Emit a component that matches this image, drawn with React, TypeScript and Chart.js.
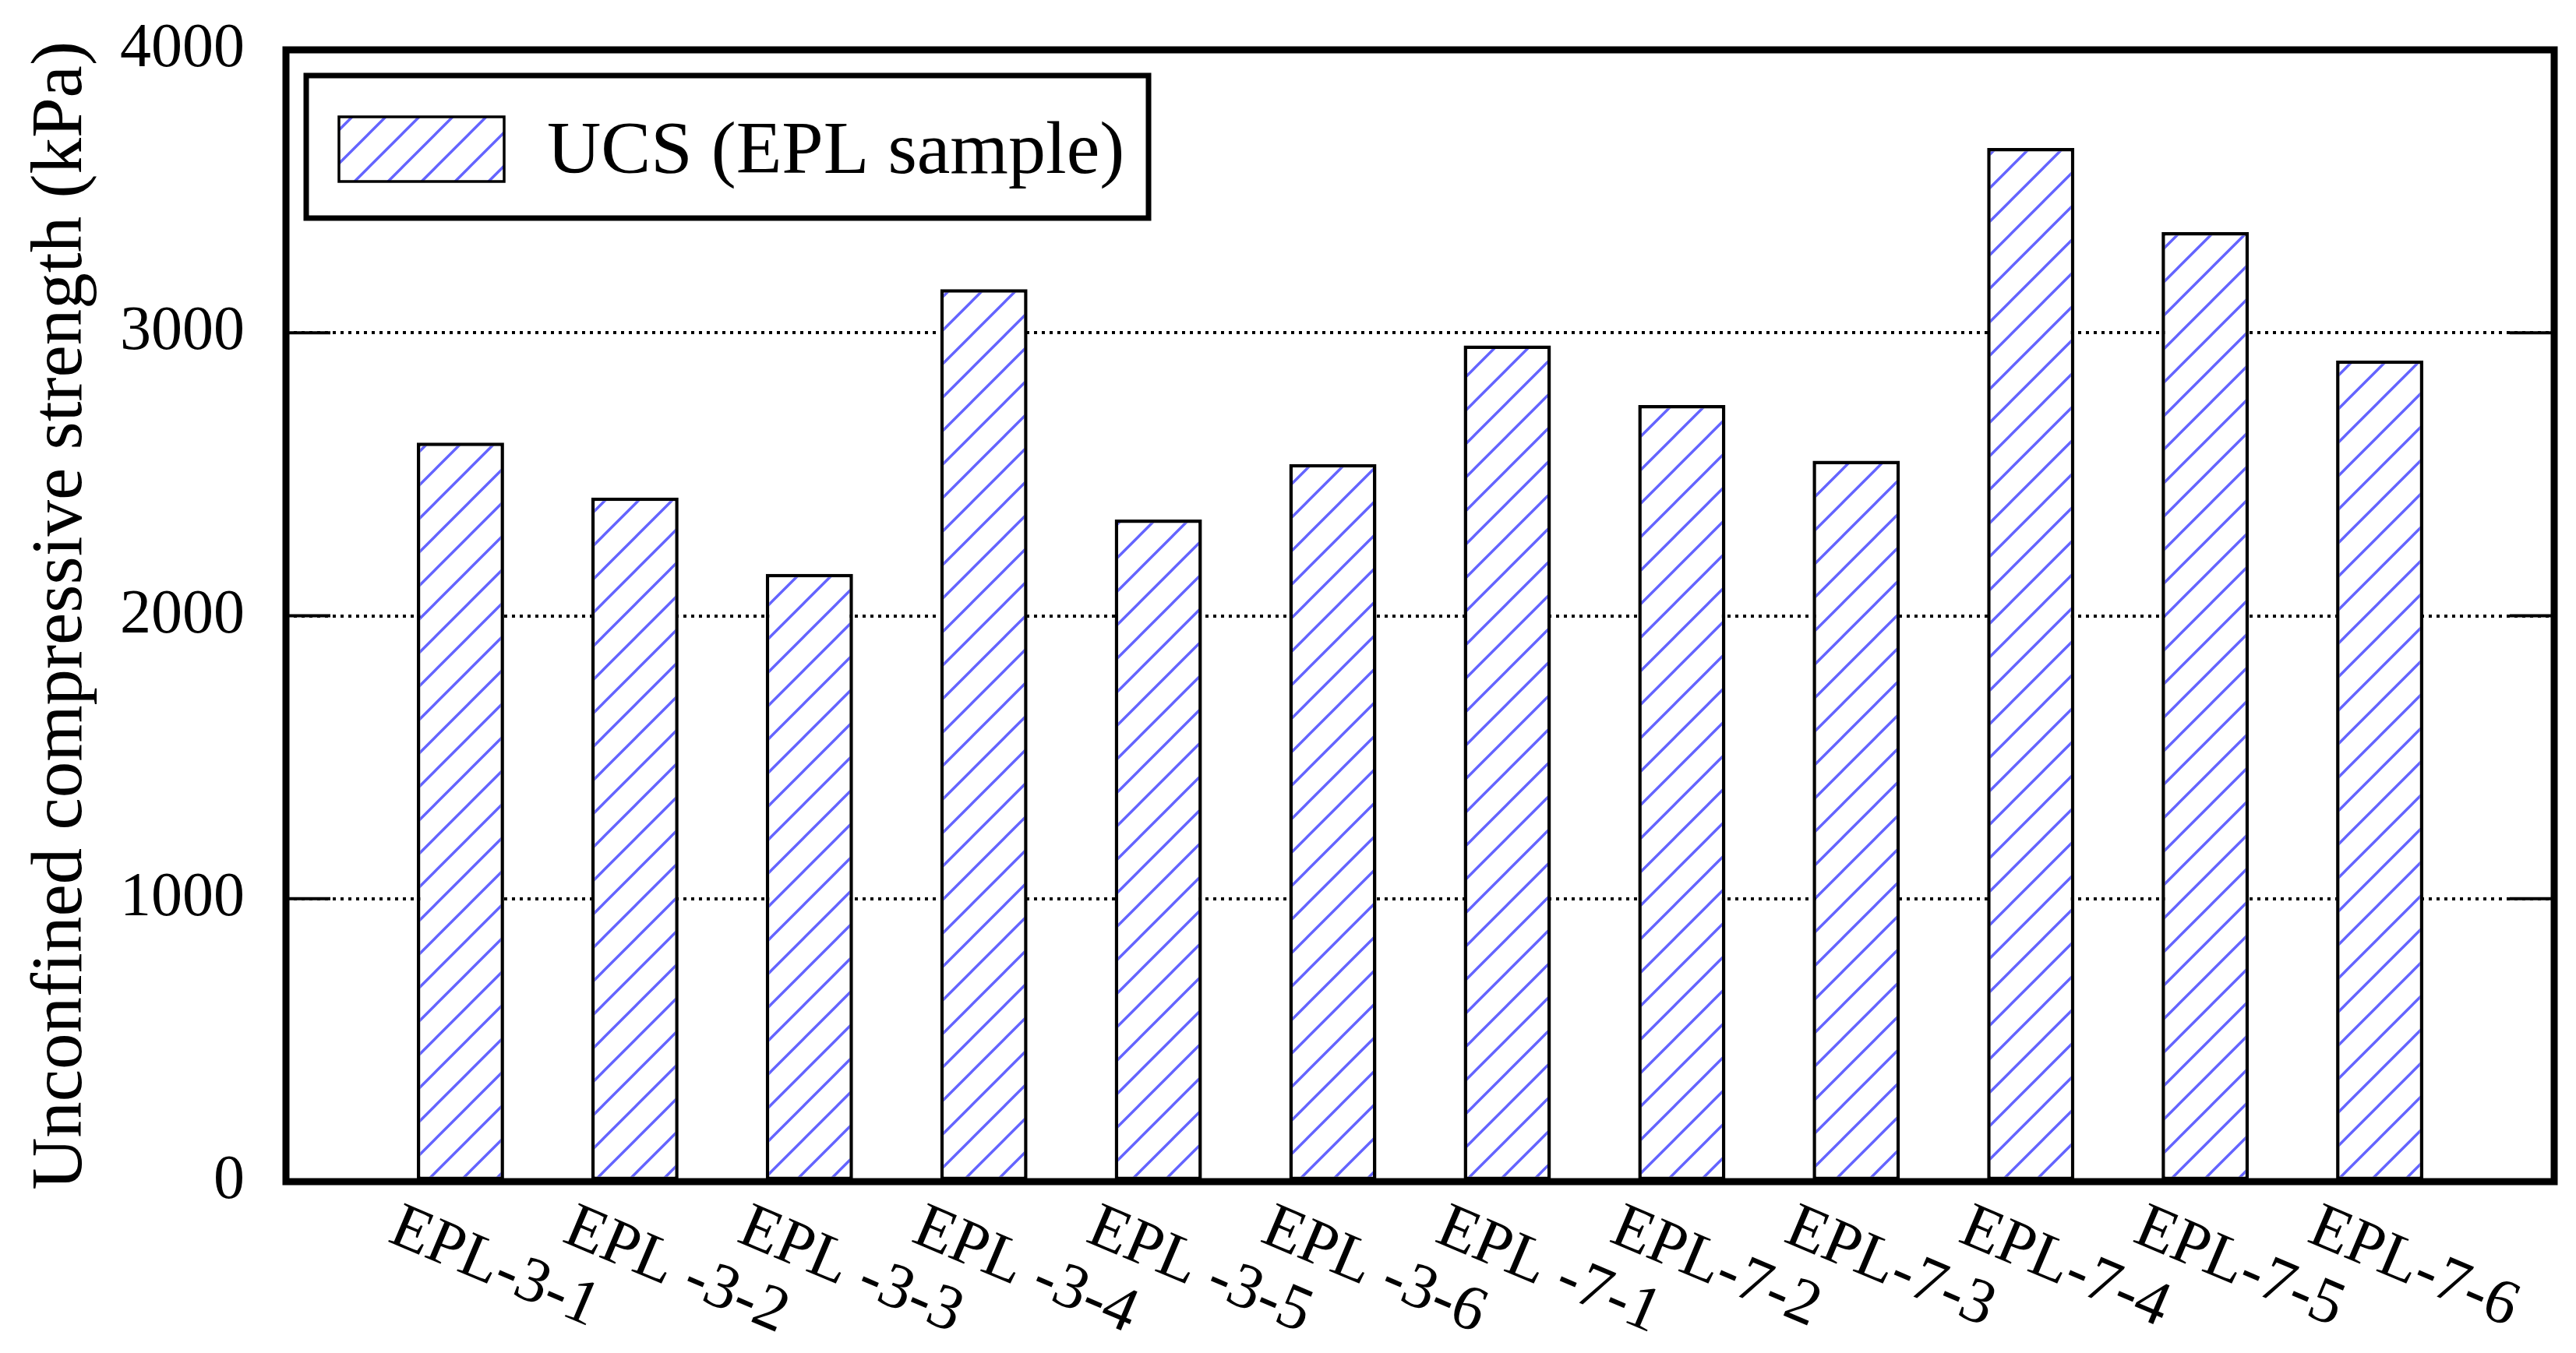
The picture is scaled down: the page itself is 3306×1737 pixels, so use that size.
import React, { useEffect, useRef } from 'react';
import { Chart, registerables } from 'chart.js';

Chart.register(...registerables);

const CATEGORIES = [
  'EPL-3-1', 'EPL -3-2', 'EPL -3-3', 'EPL -3-4', 'EPL -3-5', 'EPL -3-6',
  'EPL -7-1', 'EPL-7-2', 'EPL-7-3', 'EPL-7-4', 'EPL-7-5', 'EPL-7-6',
];
const UCS_VALUES = [2612, 2418, 2148, 3154, 2340, 2536, 2955, 2745, 2548, 3653, 3356, 2902];
const Y_TICKS = [0, 1000, 2000, 3000, 4000];
const SERIES_LABEL = 'UCS (EPL sample)';
const Y_TITLE = 'Unconfined compressive strength (kPa)';

const FONT = '"Liberation Serif", "Times New Roman", serif';

function makeHatch(): CanvasPattern | string {
  const s = 43;
  const c = document.createElement('canvas');
  c.width = s;
  c.height = s;
  const g = c.getContext('2d');
  if (!g) return '#fff';
  g.fillStyle = '#ffffff';
  g.fillRect(0, 0, s, s);
  g.strokeStyle = 'rgb(100,100,255)';
  g.lineWidth = 3.4;
  g.beginPath();
  g.moveTo(-s / 2, s / 2);
  g.lineTo(s / 2, -s / 2);
  g.moveTo(0, s);
  g.lineTo(s, 0);
  g.moveTo(s / 2, s * 1.5);
  g.lineTo(s * 1.5, s / 2);
  g.stroke();
  return g.createPattern(c, 'repeat') || '#fff';
}

export default function App() {
  const ref = useRef<HTMLCanvasElement | null>(null);

  useEffect(() => {
    const canvas = ref.current;
    if (!canvas) return;
    const hatch = makeHatch();

    const framePlugin = {
      id: 'frameAndLabels',
      afterDraw(chart: any) {
        const { ctx, chartArea: a, scales } = chart;
        const y = scales.y;
        const x = scales.x;
        ctx.save();
        // inner tick marks (left and mirrored right)
        ctx.strokeStyle = '#000';
        ctx.lineWidth = 4;
        Y_TICKS.forEach((v) => {
          const py = y.getPixelForValue(v);
          ctx.beginPath();
          ctx.moveTo(a.left, py);
          ctx.lineTo(a.left + 57, py);
          ctx.moveTo(a.right - 57, py);
          ctx.lineTo(a.right, py);
          ctx.stroke();
        });
        // frame
        ctx.lineWidth = 9;
        ctx.strokeRect(a.left, a.top, a.right - a.left, a.bottom - a.top);

        // x category labels, rotated clockwise
        ctx.fillStyle = '#000';
        ctx.font = `82px ${FONT}`;
        ctx.textAlign = 'left';
        ctx.textBaseline = 'alphabetic';
        CATEGORIES.forEach((lab, i) => {
          const px = x.getPixelForValue(i + 1);
          ctx.save();
          ctx.translate(px - 95, a.bottom + 76);
          ctx.rotate((23 * Math.PI) / 180);
          ctx.fillText(lab, 0, 0);
          ctx.restore();
        });

        // legend
        const bx = a.left + 26;
        const by = a.top + 33;
        const bw = 1081;
        const bh = 183;
        ctx.fillStyle = '#fff';
        ctx.fillRect(bx, by, bw, bh);
        ctx.lineWidth = 7;
        ctx.strokeStyle = '#000';
        ctx.strokeRect(bx, by, bw, bh);
        const sx = bx + 42;
        const sy = by + 53;
        ctx.fillStyle = hatch as any;
        ctx.fillRect(sx, sy, 212, 83);
        ctx.lineWidth = 3.5;
        ctx.strokeRect(sx, sy, 212, 83);
        ctx.fillStyle = '#000';
        ctx.font = `96px ${FONT}`;
        ctx.fillText(chart.data.datasets[0].label, bx + 309, by + 125);
        ctx.restore();
      },
    };

    const chart = new Chart(canvas, {
      type: 'bar',
      data: {
        datasets: [
          {
            label: SERIES_LABEL,
            data: UCS_VALUES.map((v, i) => ({ x: i + 1, y: v })),
            backgroundColor: hatch as any,
            borderColor: '#000',
            borderWidth: 4.5,
            borderSkipped: false,
            categoryPercentage: 1,
            barPercentage: 0.5,
          },
        ],
      },
      options: {
        responsive: false,
        animation: false,
        devicePixelRatio: 1,
        layout: { padding: { left: 0, right: 28, top: 64, bottom: 0 } },
        plugins: {
          legend: { display: false },
          tooltip: { enabled: false },
        },
        scales: {
          x: {
            type: 'linear',
            min: 0,
            max: 13,
            offset: false,
            grid: { display: false },
            border: { display: false },
            ticks: { display: false, stepSize: 1 },
            afterFit: (s: any) => {
              s.height = 220;
              s.paddingLeft = 0;
              s.paddingRight = 0;
            },
          },
          y: {
            min: 0,
            max: 4000,
            grid: { color: '#000', lineWidth: 4, drawTicks: false },
            border: { display: false, dash: [4, 6] },
            ticks: {
              stepSize: 1000,
              color: '#000',
              padding: 53,
              font: { family: FONT, size: 80 },
              callback: (v: any) => String(v),
            },
            title: {
              display: true,
              text: Y_TITLE,
              color: '#000',
              font: { family: FONT, size: 93 },
              padding: { top: 24, bottom: 0 },
            },
            afterFit: (s: any) => {
              s.width = 367;
              s.paddingTop = 0;
              s.paddingBottom = 0;
            },
          },
        },
      } as any,
      plugins: [framePlugin],
    });

    return () => chart.destroy();
  }, []);

  return (
    <div style={{ position: 'fixed', left: 0, top: 0, width: 3306, height: 1737, background: '#fff' }}>
      <canvas ref={ref} width={3306} height={1737} style={{ display: 'block' }} />
    </div>
  );
}
